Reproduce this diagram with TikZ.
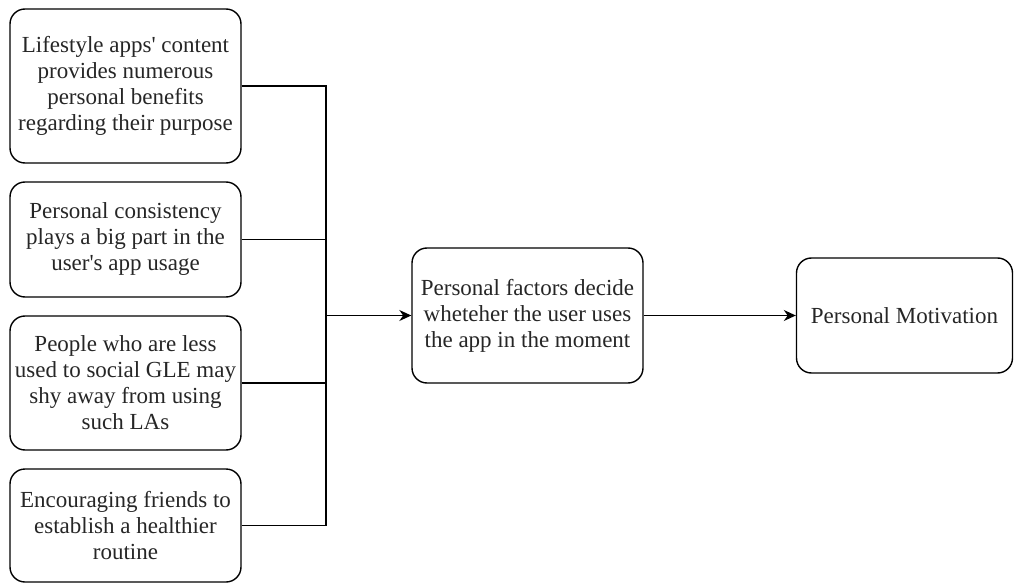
\documentclass[tikz,border=0pt]{standalone}
\usepackage{fontspec}
\setmainfont{Liberation Serif}[Ligatures=TeXOff]
\usetikzlibrary{arrows.meta}
\begin{document}
\begin{tikzpicture}[x=1pt,y=-1pt,
  box/.style={draw, line width=1.4pt, rounded corners=15pt, align=center,
    inner sep=0pt, font=\fontsize{23}{26}\selectfont, text=black!85},
  link/.style={line width=1.4pt},
  flow/.style={line width=1.4pt, -{Stealth[length=12pt,width=11pt]}}]
\useasboundingbox (0,0) rectangle (1015,583);
% input factors
\node[box, minimum width=231pt, minimum height=154pt] (b1) at (125.5,86)
  {Lifestyle apps' content\\provides numerous\\personal benefits\\regarding their purpose};
\node[box, minimum width=231pt, minimum height=115pt] (b2) at (125.5,239.5)
  {Personal consistency\\plays a big part in the\\user's app usage};
\node[box, minimum width=231pt, minimum height=134pt] (b3) at (125.5,383)
  {People who are less\\used to social GLE may\\shy away from using\\such LAs};
\node[box, minimum width=231pt, minimum height=113pt] (b4) at (125.5,525.5)
  {Encouraging friends to\\establish a healthier\\routine};
% decision and outcome
\node[box, minimum width=231pt, minimum height=135pt] (mid) at (527.5,315.5)
  {Personal factors decide\\wheteher the user uses\\the app in the moment};
\node[box, minimum width=216pt, minimum height=115pt] (out) at (904.5,315.5)
  {Personal Motivation};
% junction bus
\coordinate (jtop) at (326,86);
\coordinate (jbot) at (326,525.5);
\coordinate (jmid) at (326,315.5);
\draw[link] (b1.east) -- (jtop) -- (jbot) -- (b4.east);
\draw[link] (b2.east) -- (b2.east -| jtop);
\draw[link] (b3.east) -- (b3.east -| jtop);
\draw[flow] (jmid) -- (mid.west);
\draw[flow] (mid.east) -- (out.west);
\end{tikzpicture}
\end{document}
